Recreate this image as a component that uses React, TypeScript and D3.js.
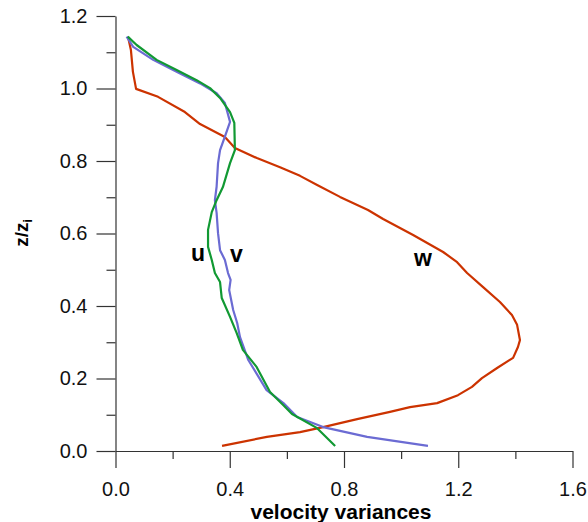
import React, { useEffect, useRef } from 'react';
import * as d3 from 'd3';

// profiles: [variance, z/zi]
const wProfile: [number, number][] = [
  [0.044, 1.142], [0.054, 1.106], [0.061, 1.046], [0.072, 0.999], [0.149, 0.977],
  [0.243, 0.935], [0.296, 0.902], [0.383, 0.866], [0.418, 0.836], [0.495, 0.808],
  [0.576, 0.783], [0.646, 0.759], [0.706, 0.734], [0.786, 0.701], [0.884, 0.665],
  [0.937, 0.640], [1.042, 0.596], [1.147, 0.549], [1.196, 0.521], [1.231, 0.491],
  [1.287, 0.452], [1.346, 0.411], [1.388, 0.375], [1.406, 0.348], [1.416, 0.306],
  [1.409, 0.287], [1.392, 0.257], [1.336, 0.229], [1.283, 0.201], [1.248, 0.177],
  [1.199, 0.154], [1.126, 0.132], [1.031, 0.121], [0.961, 0.108], [0.846, 0.088],
  [0.727, 0.066], [0.646, 0.052], [0.530, 0.039], [0.373, 0.014]
];

const uProfile: [number, number][] = [
  [0.043, 1.143], [0.074, 1.120], [0.144, 1.079], [0.214, 1.051], [0.284, 1.023],
  [0.331, 1.001], [0.366, 0.974], [0.401, 0.935], [0.416, 0.905], [0.418, 0.830],
  [0.401, 0.794], [0.376, 0.728], [0.354, 0.692], [0.337, 0.659], [0.324, 0.610],
  [0.324, 0.563], [0.337, 0.527], [0.348, 0.491], [0.366, 0.466], [0.372, 0.422],
  [0.401, 0.370], [0.424, 0.326], [0.446, 0.279], [0.494, 0.232], [0.541, 0.163],
  [0.587, 0.127], [0.618, 0.102], [0.706, 0.063], [0.769, 0.014]
];

const vProfile: [number, number][] = [
  [0.039, 1.143], [0.062, 1.115], [0.132, 1.079], [0.214, 1.046], [0.296, 1.014],
  [0.354, 0.987], [0.383, 0.960], [0.401, 0.908], [0.383, 0.867], [0.366, 0.830],
  [0.359, 0.794], [0.354, 0.729], [0.348, 0.692], [0.354, 0.657], [0.359, 0.601],
  [0.366, 0.554], [0.383, 0.527], [0.394, 0.491], [0.403, 0.472], [0.398, 0.444],
  [0.412, 0.389], [0.426, 0.353], [0.436, 0.314], [0.465, 0.251], [0.529, 0.168],
  [0.588, 0.132], [0.636, 0.094], [0.727, 0.066], [0.881, 0.039], [1.094, 0.014]
];

const xMajor = [0, 0.4, 0.8, 1.2, 1.6];
const xMinor = [0.2, 0.6, 1.0, 1.4];
const yMajor = [0, 0.2, 0.4, 0.6, 0.8, 1.0, 1.2];
const yMinor = [0.1, 0.3, 0.5, 0.7, 0.9, 1.1];

const App = () => {
  const chartRef = useRef<SVGSVGElement>(null);

  useEffect(() => {
    const width = 588;
    const height = 522;
    const svg = d3.select(chartRef.current);
    svg.selectAll('*').remove();

    const x = d3.scaleLinear().domain([0, 1.6]).range([115.5, 572.5]);
    const y = d3.scaleLinear().domain([0, 1.2]).range([451, 16]);

    const font = 'Liberation Sans, Arial, sans-serif';
    const axisColor = '#333';

    // y axis, major ticks with labels
    const gy = svg.append('g').attr('transform', `translate(${x(0)},0)`);
    gy.call(d3.axisLeft(y).tickValues(yMajor).tickSize(19).tickSizeOuter(0).tickPadding(9).tickFormat(d3.format('.1f')));
    gy.append('g').call(d3.axisLeft(y).tickValues(yMinor).tickSize(9).tickFormat(() => ''))
      .select('.domain').remove();

    // x axis
    const gx = svg.append('g').attr('transform', `translate(0,${y(0)})`);
    gx.call(d3.axisBottom(x).tickValues(xMajor).tickSize(17).tickSizeOuter(0).tickPadding(14).tickFormat(d3.format('.1f')));
    gx.append('g').call(d3.axisBottom(x).tickValues(xMinor).tickSize(8).tickFormat(() => ''))
      .select('.domain').remove();

    svg.selectAll('.domain, .tick line').attr('stroke', axisColor).attr('stroke-width', 1.2);
    svg.selectAll('.tick text')
      .attr('fill', '#111')
      .style('font-family', font)
      .style('font-size', '20px');

    // axis titles
    svg.append('text')
      .attr('x', 341)
      .attr('y', 519)
      .attr('text-anchor', 'middle')
      .style('font-family', font)
      .style('font-size', '21px')
      .style('font-weight', 'bold')
      .text('velocity variances');

    const yTitle = svg.append('text')
      .attr('transform', 'translate(28,233) rotate(-90)')
      .attr('text-anchor', 'middle')
      .style('font-family', font)
      .style('font-size', '19px')
      .style('font-weight', 'bold');
    yTitle.append('tspan').text('z/z');
    yTitle.append('tspan').attr('dy', 4).style('font-size', '12px').text('i');

    const line = d3.line<[number, number]>()
      .x(d => x(d[0]))
      .y(d => y(d[1]));

    const series = [
      { data: wProfile, color: '#cc3300' },
      { data: vProfile, color: '#6b6bd3' },
      { data: uProfile, color: '#119933' }
    ];

    series.forEach(s => {
      svg.append('path')
        .datum(s.data)
        .attr('fill', 'none')
        .attr('stroke', s.color)
        .attr('stroke-width', 2.2)
        .attr('stroke-linejoin', 'round')
        .attr('d', line);
    });

    // curve labels
    const labels = [
      { t: 'u', x: 191, y: 261 },
      { t: 'v', x: 230, y: 262 },
      { t: 'w', x: 414, y: 266 }
    ];
    labels.forEach(l => {
      svg.append('text')
        .attr('x', l.x)
        .attr('y', l.y)
        .style('font-family', font)
        .style('font-size', '23px')
        .style('font-weight', 'bold')
        .text(l.t);
    });

    svg.attr('width', width).attr('height', height);
  }, []);

  return (
    <svg
      ref={chartRef}
      width={588}
      height={522}
      style={{ position: 'absolute', left: 0, top: 0, background: '#fff' }}
    />
  );
};

export default App;
